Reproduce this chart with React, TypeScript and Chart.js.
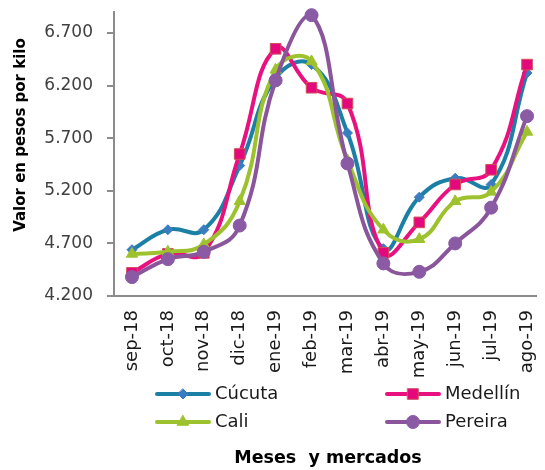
import React, { useEffect, useRef } from "react";
import { Chart, registerables } from "chart.js";

Chart.register(...registerables);

const categories = ["sep-18", "oct-18", "nov-18", "dic-18", "ene-19", "feb-19", "mar-19", "abr-19", "may-19", "jun-19", "jul-19", "ago-19"];
const cucuta = [4640, 4830, 4830, 5440, 6270, 6400, 5750, 4650, 5140, 5320, 5260, 6320];
const medellin = [4420, 4600, 4610, 5550, 6550, 6180, 6030, 4610, 4900, 5260, 5400, 6400];
const cali = [4600, 4620, 4690, 5100, 6350, 6430, 5490, 4830, 4740, 5100, 5190, 5760];
const pereira = [4380, 4550, 4620, 4870, 6250, 6870, 5460, 4510, 4430, 4700, 5040, 5910];
const yTicks = [4200, 4700, 5200, 5700, 6200, 6700];

const W = 537;
const H = 462;

const fmt = (v: number) => {
  const s = String(Math.round(v));
  return s.length > 3 ? s.slice(0, s.length - 3) + "." + s.slice(-3) : s;
};

function marker(ctx: CanvasRenderingContext2D, style: string, r: number, x: number, y: number) {
  ctx.beginPath();
  if (style === "rectRot") {
    ctx.moveTo(x, y - r);
    ctx.lineTo(x + r, y);
    ctx.lineTo(x, y + r);
    ctx.lineTo(x - r, y);
    ctx.closePath();
  } else if (style === "rect") {
    const s = Math.SQRT1_2 * r;
    ctx.rect(x - s, y - s, 2 * s, 2 * s);
  } else if (style === "triangle") {
    ctx.moveTo(x, y - r);
    ctx.lineTo(x + r * 0.866, y + r * 0.5);
    ctx.lineTo(x - r * 0.866, y + r * 0.5);
    ctx.closePath();
  } else {
    ctx.arc(x, y, r, 0, Math.PI * 2);
  }
  ctx.fill();
  ctx.stroke();
}

const customDraw = {
  id: "customDraw",
  afterDraw(chart: any) {
    const ctx = chart.ctx;
    ctx.save();
    ctx.fillStyle = "#000000";
    ctx.font = "bold 15px 'DejaVu Sans'";
    ctx.textAlign = "center";
    ctx.textBaseline = "middle";
    ctx.translate(13, 127);
    ctx.rotate(-Math.PI / 2);
    ctx.fillText("Valor en pesos por kilo", 0, 0);
    ctx.restore();

    ctx.save();
    ctx.fillStyle = "#000000";
    ctx.font = "bold 17.5px 'DejaVu Sans'";
    ctx.textAlign = "center";
    ctx.textBaseline = "middle";
    ctx.fillText("Meses  y mercados", 320, 450);
    ctx.restore();

    const items = [
      { idx: 0, x: 149, y: 386 },
      { idx: 1, x: 379, y: 386 },
      { idx: 2, x: 149, y: 414 },
      { idx: 3, x: 379, y: 414 },
    ];
    items.forEach((it) => {
      const ds = chart.data.datasets[it.idx];
      ctx.save();
      ctx.strokeStyle = ds.borderColor;
      ctx.lineWidth = 4;
      ctx.lineCap = "round";
      ctx.beginPath();
      ctx.moveTo(it.x, it.y);
      ctx.lineTo(it.x + 52, it.y);
      ctx.stroke();
      ctx.fillStyle = ds.pointBackgroundColor;
      ctx.strokeStyle = ds.pointBorderColor;
      ctx.lineWidth = ds.pointBorderWidth;
      marker(ctx, ds.pointStyle, ds.pointRadius, it.x + 26, it.y);
      ctx.fillStyle = "#1a1a1a";
      ctx.font = "18px 'DejaVu Sans'";
      ctx.textAlign = "left";
      ctx.textBaseline = "middle";
      ctx.fillText(ds.label, it.x + 58, it.y);
      ctx.restore();
    });
  },
};

export default function App() {
  const ref = useRef<HTMLCanvasElement | null>(null);

  useEffect(() => {
    if (!ref.current) return;
    const mk = (label: string, data: number[], line: string, fill: string, border: string, style: string, r: number, order: number) => ({
      label,
      data,
      borderColor: line,
      backgroundColor: fill,
      pointBackgroundColor: fill,
      pointBorderColor: border,
      pointBorderWidth: 1,
      borderWidth: 4,
      pointStyle: style,
      pointRadius: r,
      pointHoverRadius: r,
      tension: 0.45,
      order,
      fill: false,
      clip: 10,
    });
    const chart = new Chart(ref.current, {
      type: "line",
      data: {
        labels: categories,
        datasets: [
          mk("Cúcuta", cucuta, "#1c7fa6", "#3a7cc0", "#3a7cc0", "rectRot", 5, 3),
          mk("Medellín", medellin, "#e8117f", "#e4087c", "#d0505a", "rect", 7.5, 2),
          mk("Cali", cali, "#9dc22d", "#9dc22d", "#9dc22d", "triangle", 6.5, 1),
          mk("Pereira", pereira, "#8b559b", "#8a5aa5", "#8a5aa5", "circle", 6.5, 0),
        ] as any,
      },
      options: {
        animation: false,
        responsive: false,
        devicePixelRatio: 1,
        layout: { autoPadding: false, padding: { top: 4, right: 0, left: 0, bottom: 0 } },
        plugins: {
          legend: { display: false },
          tooltip: { enabled: false },
          title: { display: false },
        },
        scales: {
          x: {
            type: "category",
            offset: true,
            grid: { display: false, drawTicks: false },
            border: { display: true, color: "#8c8c8c", width: 2 },
            ticks: {
              maxRotation: 90,
              minRotation: 90,
              padding: 14,
              color: "#1a1a1a",
              font: { family: "'DejaVu Sans'", size: 18 },
            },
            afterFit: (s: any) => {
              s.height = H - 288;
              s.paddingLeft = 0;
              s.paddingRight = 0;
            },
          },
          y: {
            min: 4200,
            max: 6900,
            afterBuildTicks: (s: any) => {
              s.ticks = yTicks.map((v) => ({ value: v }));
            },
            grid: { display: true, drawOnChartArea: false, drawTicks: true, tickLength: 7, color: "#8c8c8c", lineWidth: 2 },
            border: { display: true, color: "#8c8c8c", width: 2 },
            ticks: {
              padding: 14,
              color: "#404040",
              font: { family: "'DejaVu Sans'", size: 17 },
              callback: (v: any) => fmt(Number(v)),
            },
            afterFit: (s: any) => {
              s.width = 106;
              s.paddingTop = 0;
              s.paddingBottom = 0;
            },
          },
        },
      } as any,
      plugins: [customDraw],
    });
    return () => chart.destroy();
  }, []);

  return <canvas ref={ref} width={W} height={H} style={{ width: W, height: H, display: "block" }} />;
}
